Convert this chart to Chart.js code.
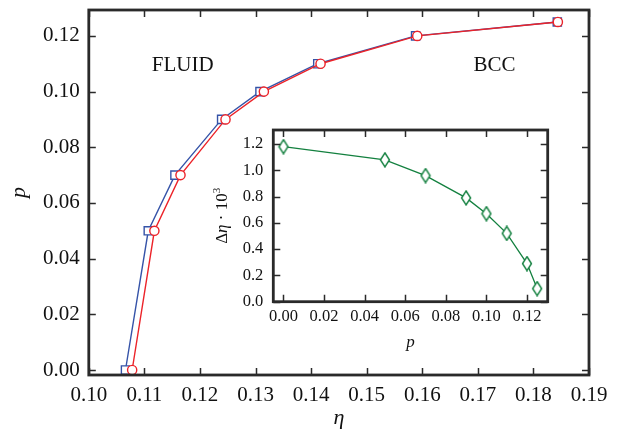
<!DOCTYPE html>
<html>
<head>
<meta charset="utf-8">
<script src="https://cdn.jsdelivr.net/npm/chart.js@4.4.1/dist/chart.umd.min.js"></script>
<style>
  html, body { margin: 0; padding: 0; background: #fff; }
  #wrap { position: relative; width: 628px; height: 431px; }
  #mainChart { position: absolute; left: 0; top: 0; }
  #insetChart { position: absolute; left: 200px; top: 120px; }
</style>
</head>
<body>
<div id="wrap">
  <canvas id="mainChart" width="628" height="431"></canvas>
  <canvas id="insetChart" width="360" height="240"></canvas>
</div>
<script>
// Data
const pressure = [0, 0.05, 0.07, 0.09, 0.10, 0.11, 0.12, 0.125];
const etaSquare = [0.1066, 0.1107, 0.1155, 0.1239, 0.1308, 0.1412, 0.1588, 0.1843];
const etaCircle = [0.1078, 0.1118, 0.1165, 0.1246, 0.1315, 0.1417, 0.1591, 0.1844];
const deltaEta = [1.18, 1.08, 0.96, 0.79, 0.67, 0.52, 0.29, 0.10];

const mainXTicks = [0.10, 0.11, 0.12, 0.13, 0.14, 0.15, 0.16, 0.17, 0.18, 0.19];
const mainYTicks = [0.00, 0.02, 0.04, 0.06, 0.08, 0.10, 0.12];
const insetXTicks = [0.00, 0.02, 0.04, 0.06, 0.08, 0.10, 0.12];
const insetYTicks = [0.0, 0.2, 0.4, 0.6, 0.8, 1.0, 1.2];

const phaseNames = ['FLUID', 'BCC'];
const phaseEta = [0.1169, 0.1730];
const phaseP = [0.1092, 0.1092];

const SERIF = '"Liberation Serif", "DejaVu Serif", serif';
const BLUE = '#3553a8';
const RED = '#ec2329';
const GREEN = '#13803f';
const INK = '#2a2a2a';

Chart.defaults.font.family = SERIF;
Chart.defaults.color = '#111';

// frame around the plot area plus inward ticks on all four sides
const frameTicks = {
    id: 'frameTicks',
    afterDraw(chart, args, opts) {
        const { ctx, chartArea: a, scales } = chart;
        ctx.save();
        ctx.strokeStyle = INK;
        ctx.lineWidth = 1.5;
        ctx.beginPath();
        scales.x.ticks.forEach(t => {
            const px = Math.round(scales.x.getPixelForValue(t.value)) + 0.5;
            ctx.moveTo(px, a.bottom); ctx.lineTo(px, a.bottom - opts.len);
            ctx.moveTo(px, a.top); ctx.lineTo(px, a.top + opts.len);
        });
        scales.y.ticks.forEach(t => {
            const py = Math.round(scales.y.getPixelForValue(t.value)) + 0.5;
            ctx.moveTo(a.left, py); ctx.lineTo(a.left + opts.len, py);
            ctx.moveTo(a.right, py); ctx.lineTo(a.right - opts.len, py);
        });
        ctx.stroke();
        ctx.lineWidth = 2.8;
        ctx.strokeRect(a.left, a.top, a.right - a.left, a.bottom - a.top);
        ctx.restore();
    }
};

const phaseLabels = {
    id: 'phaseLabels',
    afterDatasetsDraw(chart) {
        const { ctx, scales } = chart;
        ctx.save();
        ctx.font = '21px ' + SERIF;
        ctx.fillStyle = '#111';
        ctx.textAlign = 'center';
        ctx.textBaseline = 'middle';
        phaseNames.forEach((name, i) => {
            ctx.fillText(name, scales.x.getPixelForValue(phaseEta[i]), scales.y.getPixelForValue(phaseP[i]));
        });
        ctx.restore();
    }
};

// rotated "Δη · 10³" with mixed styles
const insetYTitle = {
    id: 'insetYTitle',
    afterDraw(chart) {
        const { ctx, chartArea: a } = chart;
        const parts = [
            ['\u0394', '17px ' + SERIF, 0],
            ['\u03b7', 'italic 17px ' + SERIF, 0],
            [' \u00b7 10', '17px ' + SERIF, 0],
            ['3', '11px ' + SERIF, -6]
        ];
        ctx.save();
        let total = 0;
        parts.forEach(p => { ctx.font = p[1]; total += ctx.measureText(p[0]).width; });
        ctx.translate(23, (a.top + a.bottom) / 2);
        ctx.rotate(-Math.PI / 2);
        ctx.fillStyle = '#111';
        ctx.textBaseline = 'middle';
        let x = -total / 2;
        parts.forEach(p => {
            ctx.font = p[1];
            ctx.fillText(p[0], x, p[2]);
            x += ctx.measureText(p[0]).width;
        });
        ctx.restore();
    }
};

function fixedTicks(values) {
    return scale => { scale.ticks = values.map(v => ({ value: v })); };
}

function fitY(width) {
    return s => { s.width = width; s.paddingTop = 0; s.paddingBottom = 0; };
}

function fitX(height) {
    return s => { s.height = height; s.paddingLeft = 0; s.paddingRight = 0; };
}

function initMainChart() {
    const ctx = document.getElementById('mainChart').getContext('2d');
    new Chart(ctx, {
        type: 'line',
        data: {
            datasets: [
                {
                    data: pressure.map((p, i) => ({ x: etaCircle[i], y: p })),
                    borderColor: RED,
                    borderWidth: 1.4,
                    backgroundColor: '#fff',
                    pointStyle: 'circle',
                    pointRadius: 4.6,
                    pointBorderWidth: 1.4,
                    tension: 0,
                    clip: false
                },
                {
                    data: pressure.map((p, i) => ({ x: etaSquare[i], y: p })),
                    borderColor: BLUE,
                    borderWidth: 1.4,
                    backgroundColor: '#fff',
                    pointStyle: 'rect',
                    pointRadius: 5.8,
                    pointBorderWidth: 1.4,
                    tension: 0,
                    clip: false
                }
            ]
        },
        options: {
            responsive: false,
            animation: false,
            devicePixelRatio: 1,
            layout: { autoPadding: false, padding: { left: 0, right: 39, top: 10, bottom: 0 } },
            plugins: {
                legend: { display: false },
                tooltip: { enabled: false },
                frameTicks: { len: 7 }
            },
            scales: {
                x: {
                    type: 'linear',
                    min: 0.10,
                    max: 0.19,
                    afterBuildTicks: fixedTicks(mainXTicks),
                    afterFit: fitX(56),
                    grid: { display: false, drawTicks: false },
                    border: { display: false },
                    ticks: {
                        autoSkip: false, maxRotation: 0, padding: 8,
                        font: { size: 21 }, color: '#111',
                        callback: v => v.toFixed(2)
                    },
                    title: {
                        display: true, text: '\u03b7',
                        font: { size: 22, style: 'italic', lineHeight: 1.2 },
                        padding: { top: 0, bottom: 0 }
                    }
                },
                y: {
                    type: 'linear',
                    min: -0.0018,
                    max: 0.1293,
                    afterBuildTicks: fixedTicks(mainYTicks),
                    afterFit: fitY(88.8),
                    grid: { display: false, drawTicks: false },
                    border: { display: false },
                    ticks: {
                        autoSkip: false, padding: 9,
                        font: { size: 21 }, color: '#111',
                        callback: v => v.toFixed(2)
                    },
                    title: {
                        display: true, text: 'p',
                        font: { size: 22, style: 'italic', lineHeight: 1.2 },
                        padding: { top: 6, bottom: 0 }
                    }
                }
            }
        },
        plugins: [frameTicks, phaseLabels]
    });
}

function diamondMarker() {
    const c = document.createElement('canvas');
    c.width = 12; c.height = 16;
    const g = c.getContext('2d');
    g.beginPath();
    g.moveTo(6, 1); g.lineTo(10.5, 8); g.lineTo(6, 15); g.lineTo(1.5, 8); g.closePath();
    g.fillStyle = '#fff';
    g.fill();
    g.strokeStyle = GREEN;
    g.lineWidth = 1.4;
    g.stroke();
    return c;
}

function initInsetChart() {
    const ctx = document.getElementById('insetChart').getContext('2d');
    new Chart(ctx, {
        type: 'line',
        data: {
            datasets: [{
                data: pressure.map((p, i) => ({ x: p, y: deltaEta[i] })),
                borderColor: GREEN,
                borderWidth: 1.3,
                pointStyle: diamondMarker(),
                tension: 0,
                clip: false
            }]
        },
        options: {
            responsive: false,
            animation: false,
            devicePixelRatio: 1,
            layout: { autoPadding: false, padding: { left: 0, right: 12.3, top: 10, bottom: 0 } },
            plugins: {
                legend: { display: false },
                tooltip: { enabled: false },
                frameTicks: { len: 7 }
            },
            scales: {
                x: {
                    type: 'linear',
                    min: -0.005,
                    max: 0.1302,
                    afterBuildTicks: fixedTicks(insetXTicks),
                    afterFit: fitX(58.3),
                    grid: { display: false, drawTicks: false },
                    border: { display: false },
                    ticks: {
                        autoSkip: false, maxRotation: 0, padding: 5,
                        font: { size: 16.5 }, color: '#111',
                        callback: v => v.toFixed(2)
                    },
                    title: {
                        display: true, text: 'p',
                        font: { size: 17, style: 'italic', lineHeight: 1.2 },
                        padding: { top: 0, bottom: 7 }
                    }
                },
                y: {
                    type: 'linear',
                    min: 0,
                    max: 1.307,
                    afterBuildTicks: fixedTicks(insetYTicks),
                    afterFit: fitY(73.3),
                    grid: { display: false, drawTicks: false },
                    border: { display: false },
                    ticks: {
                        autoSkip: false, padding: 10,
                        font: { size: 16.5 }, color: '#111',
                        callback: v => v.toFixed(1)
                    },
                    title: { display: false }
                }
            }
        },
        plugins: [frameTicks, insetYTitle]
    });
}

initMainChart();
initInsetChart();
</script>
</body>
</html>
